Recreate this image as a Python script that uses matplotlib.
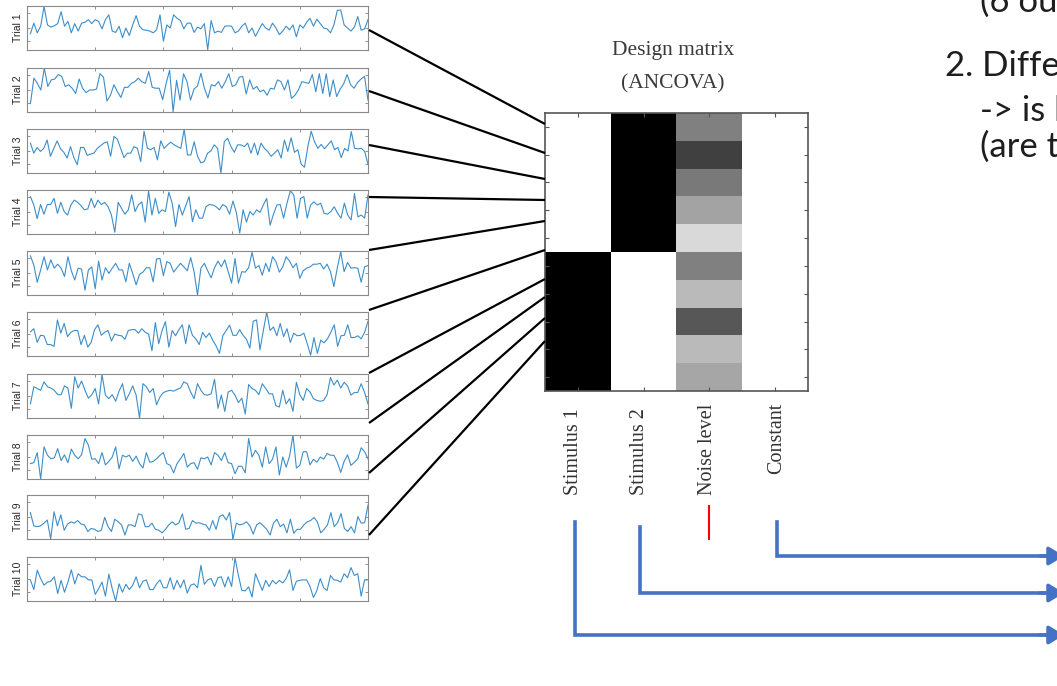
import matplotlib
matplotlib.use('Agg')
import matplotlib.pyplot as plt
import numpy as np

# figure size in pixels (saved at dpi 100)
W, H = 1057, 686

# single-trial signals (0 = panel bottom, 10 = panel top)
trial1 = [3.7, 6.1, 3.9, 5.4, 9.9, 5.7, 5.2, 5.5, 6.0, 8.7, 5.4, 6.5, 3.9, 6.0, 4.3, 6.1, 6.3, 6.9, 6.0, 6.9,
          6.5, 4.8, 6.9, 8.0, 4.3, 4.0, 5.4, 2.8, 5.0, 3.3, 5.7, 7.8, 5.4, 4.6, 4.5, 4.3, 3.9, 4.6, 8.0, 2.0,
          5.7, 5.0, 8.0, 7.2, 6.7, 4.8, 6.1, 6.1, 4.0, 5.2, 4.8, 6.0, 0.1, 6.7, 3.9, 4.3, 4.0, 5.4, 5.5, 5.4,
          3.9, 4.3, 5.4, 6.1, 3.9, 5.0, 3.1, 4.6, 6.0, 5.0, 4.5, 6.1, 5.0, 3.5, 4.3, 5.4, 4.6, 5.7, 3.0, 5.7,
          5.0, 6.3, 7.2, 5.4, 7.0, 6.0, 5.0, 4.8, 3.9, 5.7, 9.0, 9.1, 5.7, 5.0, 4.3, 5.2, 7.6, 4.5, 4.8, 6.9]
trial2 = [1.9, 7.7, 6.5, 5.0, 10.0, 5.8, 7.3, 7.5, 8.5, 8.1, 5.8, 6.2, 5.4, 4.2, 7.5, 5.4, 4.4, 5.0, 5.0, 5.2,
          8.7, 7.9, 2.5, 3.8, 6.2, 4.6, 3.3, 5.6, 5.6, 6.5, 6.9, 7.7, 6.9, 6.5, 9.2, 5.6, 5.4, 5.4, 2.8, 6.5,
          9.5, 0.0, 7.2, 2.7, 8.7, 6.9, 2.7, 5.2, 5.9, 8.8, 5.4, 3.2, 6.2, 5.9, 6.9, 5.4, 6.9, 8.7, 5.8, 6.2,
          7.9, 8.1, 4.1, 7.3, 5.2, 5.8, 4.6, 5.0, 3.8, 5.4, 5.2, 7.3, 6.9, 5.0, 7.3, 3.1, 3.8, 5.0, 6.9, 6.7,
          6.5, 8.5, 4.6, 8.7, 4.2, 8.7, 3.5, 7.3, 3.5, 5.2, 6.4, 8.5, 6.2, 5.4, 6.7, 7.5, 8.1, 2.7]
trial3 = [6.8, 4.5, 5.8, 4.9, 5.6, 7.5, 3.8, 5.6, 7.3, 5.5, 4.7, 3.4, 6.0, 3.5, 1.9, 5.8, 5.8, 4.0, 4.3, 4.5,
          5.6, 6.2, 6.8, 7.1, 3.8, 8.3, 7.7, 5.6, 3.5, 4.5, 4.5, 6.0, 5.6, 2.6, 9.5, 5.6, 5.3, 5.8, 3.0, 7.3,
          5.6, 6.4, 7.0, 6.4, 6.0, 5.6, 10.0, 4.1, 4.1, 7.1, 3.8, 2.3, 2.6, 4.5, 5.0, 6.4, 5.6, 0.0, 7.1, 7.9,
          6.0, 4.7, 6.4, 6.4, 6.0, 6.8, 4.5, 6.8, 4.1, 6.8, 5.6, 4.9, 3.8, 4.5, 5.3, 3.4, 7.5, 4.9, 8.0, 4.7,
          5.3, 2.0, 1.3, 6.0, 9.5, 7.1, 5.6, 6.5, 5.5, 6.4, 7.3, 5.3, 5.8, 3.5, 5.6, 5.0, 9.4, 5.6, 5.5, 5.6,
          4.9, 2.0]
trial4 = [8.5, 6.6, 3.5, 6.7, 4.5, 6.7, 6.7, 8.1, 4.7, 7.2, 5.1, 4.3, 6.6, 7.7, 7.2, 6.4, 5.5, 5.7, 8.1, 6.0,
          7.7, 6.7, 7.2, 6.2, 4.3, 0.4, 7.2, 5.8, 4.5, 5.5, 8.9, 5.1, 6.7, 7.3, 2.7, 9.8, 4.3, 8.1, 4.7, 5.5,
          5.1, 9.5, 7.0, 1.7, 6.7, 4.3, 6.4, 8.5, 2.8, 5.5, 3.6, 3.6, 6.2, 6.7, 6.6, 6.2, 5.5, 6.7, 6.2, 4.5,
          7.5, 4.9, 0.2, 5.5, 2.7, 5.1, 4.3, 5.5, 4.9, 6.6, 8.1, 2.0, 4.5, 6.6, 6.7, 3.6, 7.0, 9.8, 8.9, 3.6,
          8.1, 8.5, 3.6, 6.6, 7.3, 6.6, 7.0, 4.7, 4.5, 5.1, 6.2, 4.7, 3.6, 7.0, 4.3, 3.2, 9.2, 3.9, 4.3, 3.6,
          8.9]
trial5 = [8.9, 6.8, 2.9, 5.7, 8.7, 5.7, 8.0, 6.1, 7.0, 6.1, 4.2, 8.7, 5.5, 3.4, 6.1, 5.9, 1.1, 5.7, 6.4, 1.4,
          7.7, 3.4, 6.2, 4.9, 6.1, 7.2, 5.7, 5.7, 3.0, 7.2, 4.9, 2.3, 4.7, 5.2, 6.2, 6.2, 3.0, 8.2, 8.3, 4.4,
          7.6, 7.2, 5.2, 6.2, 7.2, 6.4, 5.5, 8.5, 5.3, 0.0, 6.1, 7.2, 5.5, 3.9, 6.2, 7.7, 6.4, 8.0, 5.3, 2.7,
          8.3, 2.7, 5.3, 5.2, 6.2, 9.7, 6.1, 6.7, 4.5, 7.2, 5.3, 8.7, 7.6, 5.2, 6.4, 8.7, 7.7, 6.2, 7.2, 3.8,
          5.5, 6.1, 6.4, 7.0, 7.0, 7.2, 5.9, 7.0, 5.3, 1.9, 6.2, 9.8, 5.3, 7.4, 6.1, 6.2, 6.1, 2.9, 6.4, 6.7]
trial6 = [5.5, 6.2, 3.1, 4.7, 4.6, 2.6, 2.6, 2.2, 8.2, 5.2, 7.4, 4.4, 5.4, 5.8, 5.8, 2.6, 4.7, 2.0, 3.1, 6.0,
          7.1, 4.7, 5.4, 5.8, 3.4, 5.0, 4.7, 4.6, 3.8, 5.8, 6.0, 6.0, 5.2, 6.2, 5.4, 5.0, 1.2, 7.6, 2.8, 5.8,
          7.8, 2.0, 5.8, 4.6, 6.0, 7.1, 2.8, 7.1, 4.7, 3.9, 2.6, 5.4, 4.2, 5.2, 3.6, 2.3, 0.6, 4.6, 5.8, 7.0,
          4.7, 4.7, 6.0, 4.7, 3.8, 1.8, 7.9, 8.2, 1.4, 5.8, 10.0, 5.8, 6.6, 4.6, 7.4, 4.4, 6.2, 3.1, 5.2, 4.6,
          4.7, 5.2, 2.8, 0.2, 4.2, 0.6, 3.6, 3.0, 3.9, 5.4, 7.1, 2.2, 4.6, 4.7, 7.1, 4.2, 4.2, 4.6, 3.9, 5.4,
          7.9]
trial7 = [3.2, 7.1, 6.7, 6.3, 8.2, 7.1, 6.8, 6.3, 5.3, 5.3, 7.3, 6.8, 2.2, 9.4, 6.8, 8.4, 6.3, 4.5, 5.3, 6.7,
          3.2, 9.9, 5.2, 4.4, 5.3, 3.8, 6.1, 7.8, 4.0, 5.5, 7.3, 5.2, 0.0, 7.8, 7.1, 5.8, 6.7, 3.0, 4.8, 5.8,
          6.1, 6.3, 6.1, 6.5, 6.8, 8.2, 7.8, 5.9, 4.4, 7.8, 6.3, 5.3, 5.2, 5.5, 8.8, 2.2, 5.2, 1.5, 5.9, 6.3,
          5.2, 3.5, 4.5, 0.9, 7.6, 6.7, 6.3, 5.3, 7.8, 6.7, 5.5, 5.5, 2.8, 2.5, 6.3, 3.2, 4.4, 1.5, 8.1, 5.3,
          4.0, 6.7, 5.9, 4.4, 4.0, 3.8, 4.0, 5.3, 9.2, 7.5, 8.6, 6.8, 8.1, 7.3, 5.2, 5.8, 5.8, 7.8, 5.8, 3.2]
trial8 = [3.5, 3.7, 6.0, 0.0, 7.3, 5.4, 4.6, 4.8, 6.9, 4.2, 5.5, 3.7, 6.8, 5.4, 4.6, 5.5, 9.2, 7.7, 4.5, 4.6,
          3.5, 6.0, 3.2, 4.0, 5.0, 7.3, 2.3, 5.4, 5.0, 5.4, 4.0, 5.2, 3.5, 2.5, 6.0, 3.8, 4.0, 4.6, 5.4, 6.0,
          3.5, 3.1, 1.4, 3.5, 4.6, 5.8, 2.7, 3.5, 3.7, 2.2, 4.8, 4.6, 5.0, 3.2, 6.0, 5.4, 4.2, 6.0, 3.7, 3.5,
          1.2, 2.9, 2.9, 1.4, 9.2, 5.0, 6.5, 5.4, 2.7, 7.3, 3.5, 4.5, 7.3, 0.9, 5.0, 2.7, 5.2, 10.0, 2.5, 3.1,
          6.2, 6.2, 3.2, 4.5, 3.8, 5.0, 4.5, 5.8, 5.4, 5.4, 3.8, 1.5, 4.0, 5.5, 3.1, 3.8, 4.6, 7.1, 6.2, 4.6]
trial9 = [6.0, 3.0, 2.8, 3.0, 3.6, 4.3, 0.0, 6.2, 3.0, 5.5, 2.0, 3.4, 3.9, 3.6, 4.2, 3.4, 3.2, 1.7, 2.4, 2.2,
          1.7, 2.0, 4.9, 2.8, 1.7, 4.5, 3.9, 3.2, 0.9, 3.2, 3.2, 2.8, 5.7, 5.5, 2.8, 2.8, 3.6, 2.2, 2.0, 1.4,
          2.2, 3.2, 3.9, 3.2, 3.7, 5.7, 2.2, 2.4, 4.2, 3.6, 3.7, 3.4, 3.2, 2.0, 4.2, 2.2, 5.1, 5.5, 4.3, 6.0,
          0.0, 3.6, 3.2, 3.4, 3.9, 3.0, 1.1, 3.2, 3.7, 3.0, 2.2, 0.9, 3.6, 4.5, 2.8, 3.4, 1.4, 4.5, 1.3, 2.2,
          2.2, 3.2, 3.9, 4.2, 4.9, 3.9, 1.4, 2.2, 3.2, 6.0, 2.8, 3.7, 5.8, 2.4, 1.7, 2.8, 1.4, 5.1, 3.6, 3.7,
          7.7]
trial10 = [4.8, 2.6, 7.0, 5.1, 3.6, 4.3, 4.5, 5.5, 1.7, 4.7, 2.0, 4.3, 7.1, 3.9, 6.2, 5.5, 5.5, 4.8, 4.8, 1.5,
           2.8, 4.3, 1.1, 6.1, 2.8, 0.0, 3.9, 2.0, 3.8, 2.6, 3.6, 5.5, 3.0, 4.5, 4.8, 2.6, 2.6, 3.9, 4.8, 3.0,
           3.0, 5.3, 2.6, 4.7, 3.0, 4.8, 1.8, 3.6, 3.9, 3.0, 8.1, 3.8, 4.8, 5.1, 3.3, 5.3, 5.5, 3.2, 5.5, 3.3,
           9.8, 5.8, 2.4, 2.3, 3.2, 0.9, 6.2, 4.3, 2.4, 4.7, 3.3, 4.7, 3.9, 4.7, 4.1, 5.1, 7.1, 2.4, 4.5, 4.7,
           4.8, 4.8, 3.3, 0.8, 2.4, 5.1, 3.0, 2.4, 5.8, 4.8, 4.7, 4.3, 6.2, 5.3, 7.6, 5.8, 6.2, 1.1, 4.8, 4.8]
trials = [trial1, trial2, trial3, trial4, trial5, trial6, trial7, trial8, trial9, trial10]
trial_names = ['Trial %d' % (i + 1) for i in range(10)]

# design matrix columns (1 = white, 0 = black)
stim1 = [1, 1, 1, 1, 1, 0, 0, 0, 0, 0]
stim2 = [0, 0, 0, 0, 0, 1, 1, 1, 1, 1]
noise_level = [0.50, 0.25, 0.48, 0.64, 0.85, 0.50, 0.73, 0.34, 0.73, 0.65]
constant = [1, 1, 1, 1, 1, 1, 1, 1, 1, 1]
regressor_names = ['Stimulus 1', 'Stimulus 2', 'Noise level', 'Constant']

fig = plt.figure(figsize=(W / 100, H / 100), dpi=100)


def px_axes(left, top, right, bottom, **kw):
    # add an axes given its box in pixels (origin top-left)
    return fig.add_axes([left / W, 1 - bottom / H, (right - left) / W, (bottom - top) / H], **kw)


# the ten trial panels
panel_tops = [6, 68, 129, 190, 251, 312, 374, 435, 495, 557]
for sig, name, top in zip(trials, trial_names, panel_tops):
    ax = px_axes(27, top, 368, top + 44)
    x = np.linspace(1, 100, len(sig))
    ax.plot(x, sig, color='#3d8ec9', lw=0.8)
    ax.set_xlim(0, 100)
    ax.set_ylim(0, 10)
    ax.set_xticks([0, 20, 40, 60, 80, 100])
    ax.set_yticks([2, 5.1, 8.4])
    ax.tick_params(direction='in', length=2.5, width=0.6, color='#808080',
                   top=True, right=True, labelbottom=False, labelleft=False)
    for s in ax.spines.values():
        s.set_color('#8a8a8a')
        s.set_linewidth(0.8)
    ax.set_ylabel(name, fontsize=7.5, family='Liberation Sans', color='#262626', labelpad=3)

# design matrix image
dm = np.column_stack([stim1, stim2, noise_level, constant])
axm = px_axes(545, 113, 808, 391)
axm.imshow(dm, cmap='gray', vmin=0, vmax=1, aspect='auto', interpolation='nearest')
axm.set_xticks(range(len(regressor_names)))
axm.set_yticks(range(len(stim1)))
axm.set_xticklabels([])
axm.set_yticklabels([])
axm.tick_params(direction='in', length=3, width=0.8, color='#555555', top=True, right=True)
for s in axm.spines.values():
    s.set_color('#555555')
    s.set_linewidth(1.2)

# overlay in pixel coordinates for connectors, arrows and text
ov = px_axes(0, 0, W, H, zorder=10)
ov.set_xlim(0, W)
ov.set_ylim(H, 0)
ov.axis('off')
ov.patch.set_alpha(0)

# rotated regressor labels under the matrix, placed by hand as on the slide
label_x = [573, 640, 707, 777]
label_y = [495, 495, 495, 403]
label_va = ['bottom', 'bottom', 'bottom', 'top']
for name, lx, ly, va in zip(regressor_names, label_x, label_y, label_va):
    ov.text(lx, ly, name, rotation=90, family='Liberation Serif', fontsize=14.5,
            color='#333333', ha='center', va=va)

line_start_y = [30, 91, 145, 197, 250, 310, 373, 423, 473, 535]
line_end_y = [124, 153, 179, 200, 221, 250, 279, 297, 318, 341]
for y0, y1 in zip(line_start_y, line_end_y):
    ov.plot([369, 545], [y0, y1], color='black', lw=1.6, solid_capstyle='butt')

ov.text(673, 50, 'Design matrix', family='Liberation Serif', fontsize=15.5, color='#3a3a3a',
        ha='center', va='center')
ov.text(673, 84, '(ANCOVA)', family='Liberation Serif', fontsize=15.5, color='#3a3a3a',
        ha='center', va='center')

# red mark under noise level
ov.plot([709, 709], [506, 539], color='red', lw=1.5)

# blue elbow arrows: (x, top y, bottom y)
arrow_x = [777, 640, 575]
arrow_top = [522, 527, 522]
arrow_bottom = [556, 593, 635]
blue = '#4472C4'
for ax_, yt, yb in zip(arrow_x, arrow_top, arrow_bottom):
    ov.plot([ax_, ax_, 1046], [yt, yb, yb], color=blue, lw=2.6, solid_joinstyle='miter')
    ov.annotate('', xy=(1064, yb), xytext=(1040, yb), annotation_clip=False,
                arrowprops=dict(arrowstyle='-|>,head_length=0.9,head_width=0.55', color=blue,
                                lw=2.6, mutation_scale=10, shrinkA=0, shrinkB=0))

# slide text, cropped by the right edge as in the original
txt = dict(family='Lato', fontsize=25, color='#1e1e1e', va='baseline', ha='left')
ov.text(980, 12, '(6 ou', **txt)
ov.text(945, 76, '2. Diffe', **txt)
ov.text(980, 121, '-> is l', **txt)
ov.text(980, 157, '(are t', **txt)

fig.savefig('out.png', dpi=100)
